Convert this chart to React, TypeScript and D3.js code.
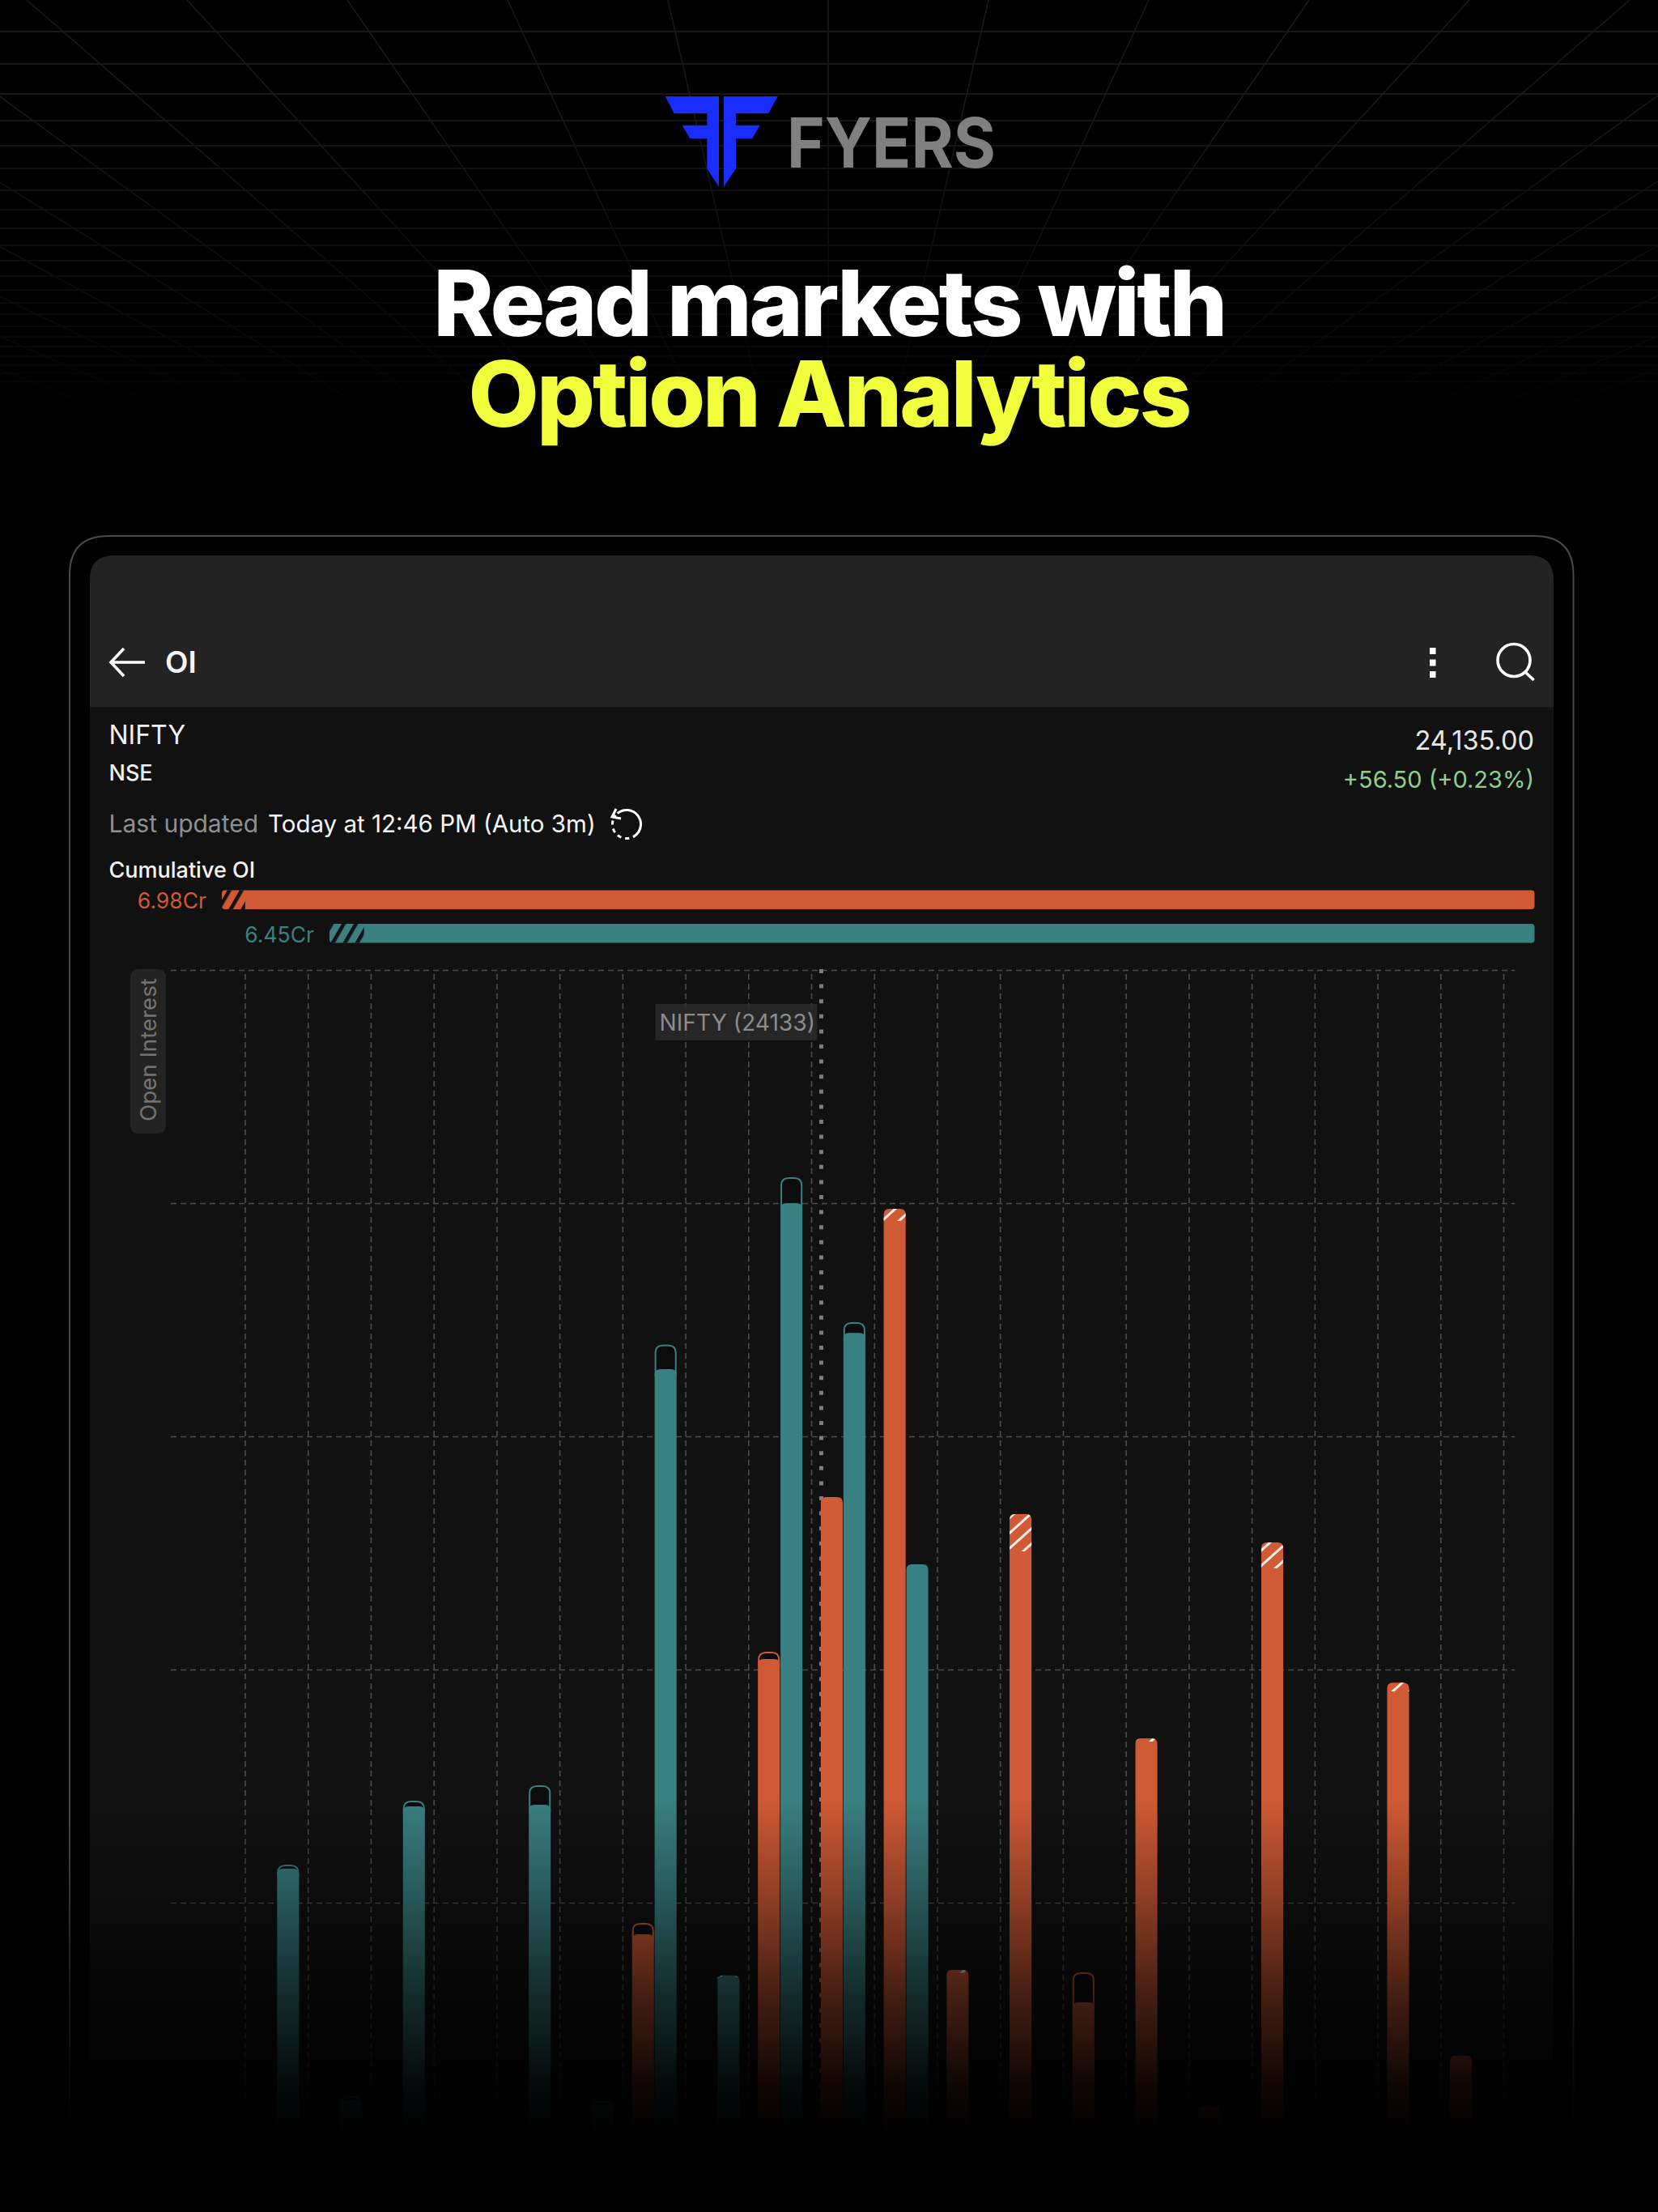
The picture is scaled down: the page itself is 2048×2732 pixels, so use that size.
import { useRef, useEffect } from "react";
import * as d3 from "d3";

// strikes on the OI chart, 50 apart
const strikes = [
    23700, 23750, 23800, 23850, 23900, 23950, 24000, 24050, 24100, 24150,
    24200, 24250, 24300, 24350, 24400, 24450, 24500, 24550, 24600, 24650,
];
// open interest now and at previous close, same order as strikes
const callOI = [0, 0, 0, 0, 0, 0, 0.865, 0, 2.045, 2.74, 3.976, 0.712, 2.667, 0.573, 1.705, 0.128, 2.545, 0, 1.944, 0.345];
const callPrev = [0, 0, 0, 0, 0, 0, 0.91, 0, 2.073, 2.74, 3.924, 0.7, 2.507, 0.698, 1.691, 0.128, 2.434, 0, 1.906, 0.345];
const putOI = [1.146, 0.153, 1.413, 0, 1.42, 0.132, 3.288, 0.688, 4.0, 3.444, 2.451, 0, 0, 0, 0, 0, 0, 0, 0, 0];
const putPrev = [1.16, 0.167, 1.434, 0, 1.5, 0.146, 3.39, 0.682, 4.108, 3.486, 2.451, 0, 0, 0, 0, 0, 0, 0, 0, 0];

const oiTicks = [1, 2, 3, 4, 5];
const gridStrikes = [...strikes.map((s) => s - 25), 24675];
const spot = 24133;

const cumulativeLabels = ["6.98Cr", "6.45Cr"];
const cumulativeValues = [6.98, 6.45];
const cumulativeAdded = [0.115, 0.17];

// perspective grid behind the logo
const bgRows = [39, 79, 116, 149, 180, 208, 235, 259, 282, 303, 322, 341, 358, 374, 388, 403, 416, 428, 440, 451, 461, 471];

const RED = "#d05a36";
const TEAL = "#3a8082";
const FONT = "Inter, sans-serif";

const logoLeft = "M821.7 119L888 119L888 230.7L873.3 208.3L873.3 171L852.3 171L842.7 154.7L873.3 154.7L873.3 140L832.7 140Z";
const logoRight = "M894 119L960.7 119L949.3 140L909 140L909 154.7L938.7 154.7L929.3 171L909 171L909 208.3L894 230.7Z";

const topRounded = (x0: number, x1: number, top: number, bottom: number, r: number) => {
    const p = d3.path();
    p.moveTo(x0, bottom);
    p.lineTo(x0, top + r);
    p.quadraticCurveTo(x0, top, x0 + r, top);
    p.lineTo(x1 - r, top);
    p.quadraticCurveTo(x1, top, x1, top + r);
    p.lineTo(x1, bottom);
    p.closePath();
    return p.toString();
};

export default function App() {
    const svgRef = useRef<SVGSVGElement>(null);

    useEffect(() => {
        if (!svgRef.current) return;
        document.body.style.margin = "0";
        document.body.style.background = "#000";

        const svg = d3.select(svgRef.current);
        svg.selectAll("*").remove();

        const defs = svg.append("defs");
        const hatch = (id: string, color: string, size: number, line: number, angle: number) => {
            const pat = defs
                .append("pattern")
                .attr("id", id)
                .attr("patternUnits", "userSpaceOnUse")
                .attr("width", size)
                .attr("height", size)
                .attr("patternTransform", `rotate(${angle})`);
            pat.append("rect").attr("width", size).attr("height", line).attr("fill", color);
        };
        hatch("barHatch", "#f6ece8", 14, 3, -42);
        hatch("cumHatch", "#111111", 13, 4.6, -60);

        const fade = (id: string, stops: [number, number][]) => {
            const g = defs
                .append("linearGradient")
                .attr("id", id)
                .attr("x1", 0)
                .attr("x2", 0)
                .attr("y1", 0)
                .attr("y2", 1);
            stops.forEach(([o, a]) =>
                g.append("stop").attr("offset", o).attr("stop-color", "#000").attr("stop-opacity", a),
            );
        };
        fade("bgFade", [[0, 0], [1, 1]]);
        fade("bottomFade", [[0, 0], [0.3, 0.32], [0.6, 0.68], [0.85, 0.92], [1, 1]]);

        svg.append("rect").attr("width", 2048).attr("height", 2732).attr("fill", "#000");

        // background perspective grid
        const bg = svg.append("g").attr("fill", "none");
        bg.selectAll("line.row")
            .data(bgRows)
            .enter()
            .append("line")
            .attr("x1", 0)
            .attr("x2", 2048)
            .attr("y1", (d) => d)
            .attr("y2", (d) => d)
            .attr("stroke", "#1f1f1f")
            .attr("stroke-width", 1.6);
        const vanishY = 860;
        bg.selectAll("line.col")
            .data(d3.range(-20, 21))
            .enter()
            .append("line")
            .attr("x1", (k) => 1023 + k * 198)
            .attr("y1", 0)
            .attr("x2", 1023)
            .attr("y2", vanishY)
            .attr("stroke", "#1b1b1b")
            .attr("stroke-width", 1.4);
        svg.append("rect")
            .attr("y", 120)
            .attr("width", 2048)
            .attr("height", 420)
            .attr("fill", "url(#bgFade)");
        svg.append("rect").attr("y", 540).attr("width", 2048).attr("height", 340).attr("fill", "#000");

        // logo
        svg.append("path").attr("d", logoLeft).attr("fill", "#1a2dff");
        svg.append("path").attr("d", logoRight).attr("fill", "#1a2dff");

        const text = (
            s: string,
            x: number,
            y: number,
            size: number,
            fill: string,
            weight = 400,
            anchor = "start",
            spacing = 0,
        ) =>
            svg
                .append("text")
                .attr("x", x)
                .attr("y", y)
                .attr("font-family", FONT)
                .attr("font-size", size)
                .attr("font-weight", weight)
                .attr("fill", fill)
                .attr("text-anchor", anchor)
                .attr("letter-spacing", spacing)
                .text(s);

        text("FYERS", 972, 206.5, 85, "#808080", 700)
            .attr("textLength", 258)
            .attr("lengthAdjust", "spacingAndGlyphs");
        text("Read markets with", 1024, 415, 113, "#ffffff", 800, "middle", -3.4);
        text("Option Analytics", 1024, 527, 113, "#f2ff3d", 800, "middle", -3);

        // device frame and panel
        svg.append("path")
            .attr("d", topRounded(86, 1943.5, 662, 2732, 48))
            .attr("fill", "none")
            .attr("stroke", "#4a4a4a")
            .attr("stroke-width", 2);
        svg.append("path").attr("d", topRounded(111, 1919, 686, 2732, 30)).attr("fill", "#111111");
        svg.append("path").attr("d", topRounded(111, 1919, 686, 873.5, 30)).attr("fill", "#232323");

        // header icons
        const icons = svg
            .append("g")
            .attr("fill", "none")
            .attr("stroke", "#fff")
            .attr("stroke-width", 3.6);
        icons.append("path").attr("d", "M179 818H137M153 801L137 818L153 835");
        icons.append("circle").attr("cx", 1870).attr("cy", 815.5).attr("r", 20);
        icons.append("path").attr("d", "M1884 830L1894.6 840");
        d3.range(3).forEach((i) =>
            svg.append("rect")
                .attr("x", 1766)
                .attr("y", 800 + i * 14.5)
                .attr("width", 7.5)
                .attr("height", 8)
                .attr("fill", "#fff"),
        );

        text("OI", 204, 831, 37, "#f4f4f4", 600);
        text("NIFTY", 134.5, 919, 32, "#f0f0f0");
        text("NSE", 134.5, 964, 27, "#f0f0f0", 500);
        text("24,135.00", 1895, 926, 32.5, "#e6e6e6", 400, "end");
        text("+56.50 (+0.23%)", 1895, 973, 29, "#8fce8f", 400, "end");
        text("Last updated", 134.5, 1028, 30, "#8f8f8f");
        text("Today at 12:46 PM (Auto 3m)", 331, 1028, 29.5, "#f4f4f4");

        // refresh icon
        const ring = d3.arc()({ innerRadius: 17.5, outerRadius: 17.5, startAngle: -0.7, endAngle: 2.5 });
        const ringDots = d3.arc()({ innerRadius: 17.5, outerRadius: 17.5, startAngle: 2.5, endAngle: 5.4 });
        const refresh = svg.append("g").attr("transform", "translate(774,1018)").attr("fill", "none").attr("stroke", "#fff").attr("stroke-width", 3);
        refresh.append("path").attr("d", ring!);
        refresh.append("path").attr("d", ringDots!).attr("stroke-dasharray", "3 7");
        refresh.append("path").attr("d", "M-13 -19L-18 -9L-7 -7");

        // cumulative OI bars
        text("Cumulative OI", 134.5, 1084, 27, "#f4f4f4", 500);
        const cumRight = 1895.5;
        const cumX = d3.scaleLinear().domain([6.98, 6.45]).range([274, 407]);
        const cumColors = [RED, TEAL];
        const cumRows = [1099.5, 1141];
        cumulativeValues.forEach((v, i) => {
            svg.append("rect")
                .attr("x", cumX(v))
                .attr("y", cumRows[i])
                .attr("width", cumRight - cumX(v))
                .attr("height", 23.5)
                .attr("rx", 4)
                .attr("fill", cumColors[i]);
            svg.append("rect")
                .attr("x", cumX(v))
                .attr("y", cumRows[i])
                .attr("width", cumX(v - cumulativeAdded[i]) - cumX(v))
                .attr("height", 23.5)
                .attr("fill", "url(#cumHatch)");
            text(cumulativeLabels[i], cumX(v) - 19, cumRows[i] + 22.5, 26.5, cumColors[i], 400, "end");
        });

        // OI chart
        const x = d3.scaleLinear().domain([23675, 24675]).range([302.5, 1857]);
        const y = d3.scaleLinear().domain([0, 5]).range([2638, 1198]);
        const side = d3.scaleBand().domain(["call", "put"]).range([-27, 28]).paddingInner(0.03);

        const gridY = svg
            .append("g")
            .attr("transform", "translate(211,0)")
            .call(d3.axisLeft(y).tickValues(oiTicks).tickSize(-1660).tickFormat(() => ""));
        const gridX = svg
            .append("g")
            .attr("transform", "translate(0,2638)")
            .call(d3.axisBottom(x).tickValues(gridStrikes).tickSize(-1440).tickFormat(() => ""));
        [gridY, gridX].forEach((g) => {
            g.select(".domain").remove();
            g.selectAll(".tick line")
                .attr("stroke", "#4c4c4c")
                .attr("stroke-width", 1.6)
                .attr("stroke-dasharray", "7 5");
        });

        svg.append("line")
            .attr("x1", x(spot))
            .attr("x2", x(spot))
            .attr("y1", 1197)
            .attr("y2", 2638)
            .attr("stroke", "#7d7d7d")
            .attr("stroke-width", 5)
            .attr("stroke-dasharray", "5 13.6");

        svg.append("rect")
            .attr("x", x(spot) - 205)
            .attr("y", 1240)
            .attr("width", 200)
            .attr("height", 45)
            .attr("fill", "#2a2a2a")
            .attr("fill-opacity", 0.85);
        text(`NIFTY (${spot})`, x(spot) - 200, 1273, 28.2, "#8c8c8c");

        svg.append("rect").attr("x", 161).attr("y", 1197).attr("width", 44).attr("height", 203).attr("rx", 9).attr("fill", "#232323");
        svg.append("text")
            .attr("transform", "translate(192.5,1385) rotate(-90)")
            .attr("font-family", FONT)
            .attr("font-size", 27.7)
            .attr("fill", "#737373")
            .text("Open Interest");

        const series = [
            { key: "call", color: RED, now: callOI, prev: callPrev },
            { key: "put", color: TEAL, now: putOI, prev: putPrev },
        ];
        series.forEach(({ key, color, now, prev }) => {
            const w = side.bandwidth();
            const rows = strikes
                .map((s, i) => ({ s, now: now[i], prev: prev[i], x0: x(s) + side(key)! }))
                .filter((d) => d.now > 0);
            const g = svg.append("g");
            // previous OI outline where OI came off
            g.selectAll("path.was")
                .data(rows.filter((d) => d.prev > d.now))
                .enter()
                .append("path")
                .attr("d", (d) => topRounded(d.x0 + 1, d.x0 + w - 1, y(d.prev), y(d.now) + 8, 9))
                .attr("fill", "#0c0c0c")
                .attr("stroke", color)
                .attr("stroke-width", 2);
            g.selectAll("path.now")
                .data(rows)
                .enter()
                .append("path")
                .attr("d", (d) => topRounded(d.x0, d.x0 + w, y(d.now), y(0), 7))
                .attr("fill", color);
            // added OI gets the white hatch
            g.selectAll("path.added")
                .data(rows.filter((d) => d.now > d.prev))
                .enter()
                .append("path")
                .attr("d", (d) => topRounded(d.x0, d.x0 + w, y(d.now), y(d.prev), 7))
                .attr("fill", "url(#barHatch)");
        });

        // page fades to black at the bottom
        svg.append("rect").attr("y", 2220).attr("width", 2048).attr("height", 415).attr("fill", "url(#bottomFade)");
        svg.append("rect").attr("y", 2634).attr("width", 2048).attr("height", 98).attr("fill", "#000");
    }, []);

    return (
        <svg
            ref={svgRef}
            width={2048}
            height={2732}
            viewBox="0 0 2048 2732"
            style={{ position: "absolute", left: 0, top: 0, display: "block" }}
        />
    );
}
